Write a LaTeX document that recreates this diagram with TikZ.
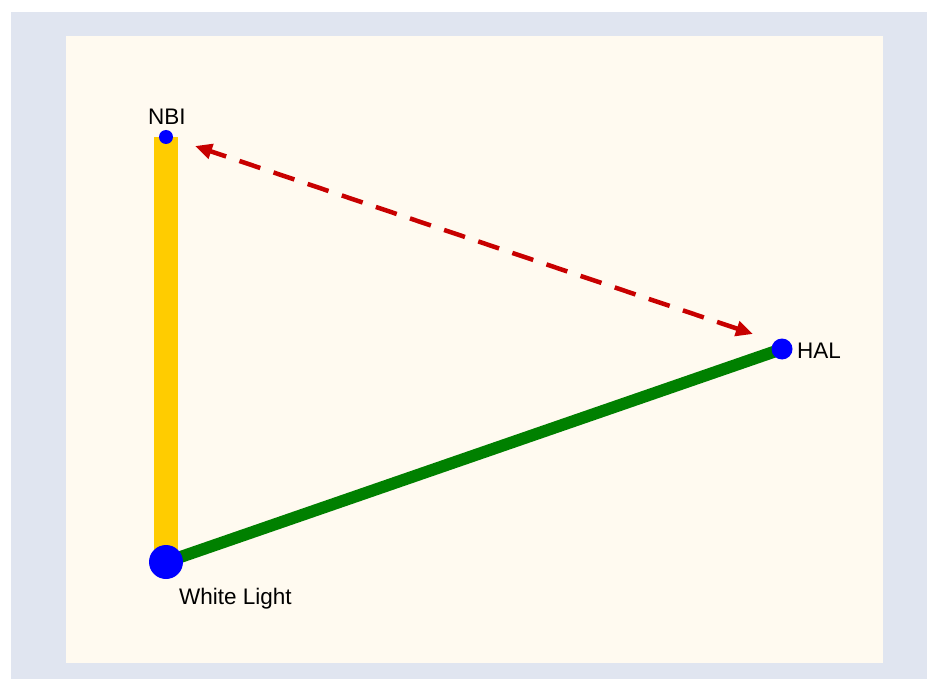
\documentclass[tikz,border=0pt]{standalone}
\usepackage{fontspec}
\setmainfont{Liberation Sans}
\usetikzlibrary{arrows.meta}
\definecolor{outerbg}{RGB}{224,229,240}
\definecolor{innerbg}{RGB}{255,250,240}
\definecolor{barY}{RGB}{255,204,0}
\definecolor{barG}{RGB}{0,128,0}
\definecolor{dotB}{RGB}{0,0,255}
\definecolor{arrR}{RGB}{200,0,0}
\tikzset{
  dot/.style={circle, fill=dotB, inner sep=0pt, minimum size=#1},
  lbl/.style={font=\fontsize{22.5}{27}\selectfont, text=black, inner sep=0pt},
  link/.style={arrR, line width=4.5pt, dash pattern=on 22pt off 14pt,
    {Triangle[length=17pt,width=15pt]}-{Triangle[length=17pt,width=15pt]}}
}
\begin{document}
\begin{tikzpicture}[x=1pt,y=-1pt]
\useasboundingbox (0,0) rectangle (927,679);
\fill[outerbg] (11,12) rectangle (927,679);
\fill[innerbg] (66,36) rectangle (883,663);
\coordinate (nbiC) at (166,137);
\coordinate (halC) at (782,349);
\coordinate (wlC) at (166,562);
\draw[barY, line width=24pt] (wlC) -- (nbiC);
\draw[barG, line width=12pt] (wlC) -- (halC);
\node[dot=14pt] (nbi) at (nbiC) {};
\node[dot=21pt] (hal) at (halC) {};
\node[dot=34pt] (wl) at (wlC) {};
\coordinate (tipN) at (195,146);
\coordinate (tipH) at (753,334);
\draw[link] (tipH) -- (tipN);
\node[lbl, anchor=base] (nbiL) at (167,125) {NBI};
\node[lbl, anchor=base west] (halL) at (797,359) {HAL};
\node[lbl, anchor=base west] (wlL) at (179,604) {White Light};
\end{tikzpicture}
\end{document}
